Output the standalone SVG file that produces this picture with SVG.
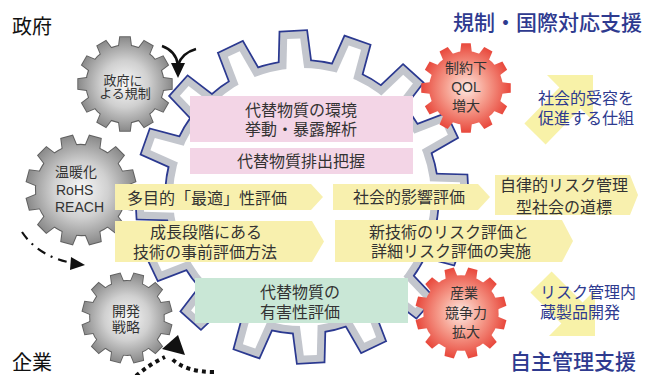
<svg xmlns="http://www.w3.org/2000/svg" width="651" height="375" viewBox="0 0 651 375">
<style>
text { font-family: "Noto Sans CJK JP", "Noto Sans CJK SC", sans-serif; fill: #333; }
.t16 { font-size: 16px; text-anchor: middle; }
.t14 { font-size: 14px; text-anchor: middle; }
.t13 { font-size: 13px; text-anchor: middle; }
.lat { font-family: "Liberation Sans", "Noto Sans CJK JP", sans-serif; }
.ttl { font-size: 20px; fill: #111; }
.blu { fill: #2e3a8f; }
.big { font-size: 21px; font-weight: 500; }
.pink { fill: #f3d5e6; }
.yel { fill: #f8f0ae; }
.grn { fill: #c9e7d6; }
.pale { fill: #f8f2a8; }
.arr { fill: none; stroke: #111; }
</style>
<defs>
  <polygon id="bt" points="-13.02,-165.49 13.02,-165.49 16.19,-125 -16.19,-125"/>
  <polygon id="bti" points="-6.55,-158.49 6.55,-158.49 9.72,-118 -9.72,-118"/>
  <g id="bg">
    <circle r="136"/>
    <use href="#bt"/><use href="#bt" transform="rotate(22.5)"/><use href="#bt" transform="rotate(45)"/><use href="#bt" transform="rotate(67.5)"/>
    <use href="#bt" transform="rotate(90)"/><use href="#bt" transform="rotate(112.5)"/><use href="#bt" transform="rotate(135)"/><use href="#bt" transform="rotate(157.5)"/>
    <use href="#bt" transform="rotate(180)"/><use href="#bt" transform="rotate(202.5)"/><use href="#bt" transform="rotate(225)"/><use href="#bt" transform="rotate(247.5)"/>
    <use href="#bt" transform="rotate(270)"/><use href="#bt" transform="rotate(292.5)"/><use href="#bt" transform="rotate(315)"/><use href="#bt" transform="rotate(337.5)"/>
  </g>
  <g id="bgi">
    <circle r="129"/>
    <use href="#bti"/><use href="#bti" transform="rotate(22.5)"/><use href="#bti" transform="rotate(45)"/><use href="#bti" transform="rotate(67.5)"/>
    <use href="#bti" transform="rotate(90)"/><use href="#bti" transform="rotate(112.5)"/><use href="#bti" transform="rotate(135)"/><use href="#bti" transform="rotate(157.5)"/>
    <use href="#bti" transform="rotate(180)"/><use href="#bti" transform="rotate(202.5)"/><use href="#bti" transform="rotate(225)"/><use href="#bti" transform="rotate(247.5)"/>
    <use href="#bti" transform="rotate(270)"/><use href="#bti" transform="rotate(292.5)"/><use href="#bti" transform="rotate(315)"/><use href="#bti" transform="rotate(337.5)"/>
  </g>
  <polygon id="st" points="-5.23,-49.73 5.23,-49.73 6.99,-36 -6.99,-36"/>
  <g id="sg">
    <circle r="41"/>
    <use href="#st"/><use href="#st" transform="rotate(30)"/><use href="#st" transform="rotate(60)"/><use href="#st" transform="rotate(90)"/>
    <use href="#st" transform="rotate(120)"/><use href="#st" transform="rotate(150)"/><use href="#st" transform="rotate(180)"/><use href="#st" transform="rotate(210)"/>
    <use href="#st" transform="rotate(240)"/><use href="#st" transform="rotate(270)"/><use href="#st" transform="rotate(300)"/><use href="#st" transform="rotate(330)"/>
  </g>
  <radialGradient id="gg" gradientUnits="userSpaceOnUse" cx="0" cy="0" r="50">
    <stop offset="0" stop-color="#f8f8f8"/>
    <stop offset="0.5" stop-color="#d0d0d0"/>
    <stop offset="1" stop-color="#8a8a8a"/>
  </radialGradient>
  <radialGradient id="rg" gradientUnits="userSpaceOnUse" cx="0" cy="0" r="50">
    <stop offset="0" stop-color="#fde9e3"/>
    <stop offset="0.45" stop-color="#f6a090"/>
    <stop offset="1" stop-color="#e8473b"/>
  </radialGradient>
</defs>

<rect width="651" height="375" fill="#fff"/>

<!-- big central gear -->
<g id="main-gear" transform="translate(302,197) rotate(-3)">
  <use href="#bg" fill="#2b3990" stroke="#2b3990" stroke-width="3.5"/>
  <use href="#bg" fill="#c3c6cd"/>
  <use href="#bgi" fill="#ffffff"/>
</g>

<!-- pale support arrows -->
<g id="arrow-social">
  <polygon class="pale" points="524.4,123.4 559.4,87.4 547,75 593,75 593,121 580.6,108.6 545.6,144.6"/>
  <text class="blu" x="538" y="104" font-size="16">社会的受容を</text>
  <text class="blu" x="538" y="124" font-size="16">促進する仕組</text>
</g>
<g id="arrow-product">
  <polygon class="pale" points="551.6,271.4 582.6,302.4 595,290 595,336 549,336 561.4,323.6 530.4,292.6"/>
  <text class="blu" x="540" y="298" font-size="16">リスク管理内</text>
  <text class="blu" x="540" y="318" font-size="16">蔵製品開発</text>
</g>

<!-- small gears -->
<g id="gear-gov">
  <g transform="translate(125,84) scale(0.94)">
    <use href="#sg" fill="#606060" stroke="#606060" stroke-width="2"/>
    <use href="#sg" fill="url(#gg)"/>
  </g>
  <text class="t13" x="123" y="84.5">政府に</text>
  <text class="t13" x="125" y="98">よる規制</text>
</g>
<g id="gear-climate">
  <g transform="translate(81,190) scale(1.1) rotate(15)">
    <use href="#sg" fill="#606060" stroke="#606060" stroke-width="1.8"/>
    <use href="#sg" fill="url(#gg)"/>
  </g>
  <text x="55" y="177" font-size="14">温暖化</text>
  <text class="lat" x="56" y="195" font-size="14">RoHS</text>
  <text class="lat" x="55" y="212" font-size="14">REACH</text>
</g>
<g id="gear-dev">
  <g transform="translate(127,318) scale(0.9) rotate(15)">
    <use href="#sg" fill="#606060" stroke="#606060" stroke-width="2"/>
    <use href="#sg" fill="url(#gg)"/>
  </g>
  <text class="t14" x="126" y="316">開発</text>
  <text class="t14" x="126" y="332">戦略</text>
</g>
<g id="gear-qol">
  <g transform="translate(466,88) scale(0.9)">
    <use href="#sg" fill="url(#rg)"/>
  </g>
  <text class="t14" x="466" y="73">制約下</text>
  <text class="t14 lat" x="466" y="92" font-size="15">QOL</text>
  <text class="t14" x="466" y="111">増大</text>
</g>
<g id="gear-industry">
  <g transform="translate(461,313) scale(0.92) rotate(15)">
    <use href="#sg" fill="url(#rg)"/>
  </g>
  <text class="t14" x="464" y="298">産業</text>
  <text class="t14" x="466" y="318">競争力</text>
  <text class="t14" x="466" y="337">拡大</text>
</g>

<!-- boxes inside the main gear -->
<g id="box-behavior">
  <rect class="pink" x="190" y="96" width="223" height="46"/>
  <text class="t16" x="301" y="116">代替物質の環境</text>
  <text class="t16" x="301" y="135">挙動・暴露解析</text>
</g>
<g id="box-emission">
  <rect class="pink" x="190" y="148" width="223" height="26"/>
  <text class="t16" x="301" y="167">代替物質排出把握</text>
</g>
<g id="box-multi">
  <polygon class="yel" points="115,184 311,184 323,197 311,210 115,210"/>
  <text class="t16" x="207" y="204">多目的「最適」性評価</text>
</g>
<g id="box-social">
  <polygon class="yel" points="333,184 478,184 490,197 478,210 333,210"/>
  <text class="t16" x="409" y="203">社会的影響評価</text>
</g>
<g id="box-goal">
  <polygon class="yel" points="495,175 630,175 638,195 630,215 495,215"/>
  <text class="t16" x="564" y="191">自律的リスク管理</text>
  <text class="t16" x="564" y="213">型社会の道標</text>
</g>
<g id="box-prior">
  <polygon class="yel" points="115,221 312,221 324,241.5 312,262 115,262"/>
  <text class="t16" x="206" y="238">成長段階にある</text>
  <text class="t16" x="205" y="258">技術の事前評価方法</text>
</g>
<g id="box-newtech">
  <polygon class="yel" points="335,220 562,220 573,241 562,262 335,262"/>
  <text class="t16" x="449" y="237.5">新技術のリスク評価と</text>
  <text class="t16" x="451" y="257">詳細リスク評価の実施</text>
</g>
<g id="box-hazard">
  <rect class="grn" x="195" y="278" width="213" height="45"/>
  <text class="t16" x="300" y="298">代替物質の</text>
  <text class="t16" x="300" y="318">有害性評価</text>
</g>

<!-- titles -->
<g id="title-gov"><text class="ttl" x="12" y="34">政府</text></g>
<g id="title-company"><text class="ttl" x="12" y="370">企業</text></g>
<g id="title-reg"><text class="blu big" x="453" y="30">規制・国際対応支援</text></g>
<g id="title-self"><text class="blu big" x="510" y="369">自主管理支援</text></g>

<!-- connectors -->
<g id="connectors">
  <path class="arr" d="M162,46 Q176,51 178,65" stroke-width="2.5"/>
  <path class="arr" d="M196,49 Q182,53 178,65" stroke-width="2.5"/>
  <polygon points="171,63 185,63 178,78" fill="#111"/>
  <path class="arr" d="M22,232 Q38,256 72,263" stroke-width="2.2" stroke-dasharray="9 6 2 6"/>
  <polygon points="71,257 85,265 70,270" fill="#111"/>
  <path class="arr" d="M136,376 Q150,364 165,357" stroke-width="4" stroke-dasharray="4 4"/>
  <path class="arr" d="M214,372 Q186,372 172,359" stroke-width="4" stroke-dasharray="4 4"/>
  <polygon points="178,335 162,349 185,355" fill="#111"/>
</g>
</svg>
